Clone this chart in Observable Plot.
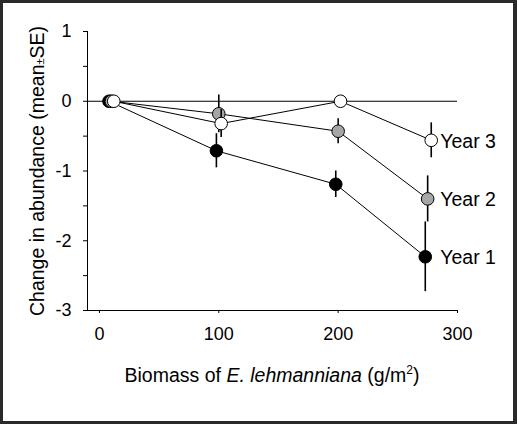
<!DOCTYPE html>
<html>
<head>
<meta charset="utf-8">
<script src="https://cdn.jsdelivr.net/npm/d3@7"></script>
<script src="https://cdn.jsdelivr.net/npm/@observablehq/plot@0.6"></script>
<style>
  html, body { margin: 0; padding: 0; background: #fff; }
  #wrap { position: relative; width: 517px; height: 424px; overflow: hidden; }
  #wrap svg { position: absolute; left: 0; top: 0; }
  #frame { position: absolute; left: 0; top: 0; width: 517px; height: 424px; box-sizing: border-box;
           border-style: solid; border-color: #2a2a2a; border-width: 3px 4px 3px 3px; pointer-events: none; }
</style>
</head>
<body>
<div id="wrap"><div id="frame"></div></div>
<script>
const years = ["Year 1", "Year 2", "Year 3"];
const fills = ["#000000", "#a6a6a6", "#ffffff"];

const biomassY1 = [8, 98, 198, 273];
const meanY1 = [0, -0.71, -1.19, -2.23];
const seY1 = [0, 0.245, 0.19, 0.50];

const biomassY2 = [10, 100, 200, 275];
const meanY2 = [0, -0.18, -0.43, -1.40];
const seY2 = [0, 0.27, 0.18, 0.33];

const biomassY3 = [12, 102, 202, 278];
const meanY3 = [0, -0.32, 0, -0.56];
const seY3 = [0, 0.20, 0, 0.25];

const yTicks = [-3, -2.5, -2, -1.5, -1, -0.5, 0, 0.5, 1];
const xTicks = [0, 100, 200, 300];

const series = [
  {year: years[0], fill: fills[0], xs: biomassY1, ys: meanY1, se: seY1},
  {year: years[1], fill: fills[1], xs: biomassY2, ys: meanY2, se: seY2},
  {year: years[2], fill: fills[2], xs: biomassY3, ys: meanY3, se: seY3}
];

const font = "'Liberation Sans', Arial, sans-serif";
const marks = [];
const labelX = d3.max(series, s => s.xs[s.xs.length - 1]);

// zero reference line
marks.push(Plot.ruleY([0], {x1: -10, x2: 300, stroke: "#000", strokeWidth: 1}));

for (const s of series) {
  const rows = s.xs.map((x, i) => ({x, y: s.ys[i], lo: s.ys[i] - s.se[i], hi: s.ys[i] + s.se[i]}));
  marks.push(Plot.line(rows, {x: "x", y: "y", stroke: "#000", strokeWidth: 1}));
  marks.push(Plot.ruleX(rows.filter(d => d.hi > d.lo), {x: "x", y1: "lo", y2: "hi", stroke: "#000", strokeWidth: 1.6}));
  marks.push(Plot.dot(rows, {x: "x", y: "y", r: 6.3, fill: s.fill, stroke: "#000", strokeWidth: 1}));
  const last = rows[rows.length - 1];
  marks.push(Plot.text([last], {x: () => labelX, y: "y", text: () => s.year, textAnchor: "start", dx: 9, dy: 1, fontSize: 19.5, fill: "#000"}));
}

// axis lines
marks.push(Plot.ruleX([-10], {y1: -3, y2: 1, stroke: "#000", strokeWidth: 1}));
marks.push(Plot.ruleY([-3], {x1: -12.5, x2: 300, stroke: "#000", strokeWidth: 1}));

marks.push(Plot.axisY(yTicks, {
  tickSize: 4, tickPadding: 12, fontSize: 18,
  tickFormat: d => Number.isInteger(d) ? String(d) : "", label: null
}));
marks.push(Plot.axisX(xTicks, {
  tickSize: 3, tickPadding: 14, fontSize: 18, tickFormat: d => String(d), label: null
}));

const chart = Plot.plot({
  width: 517,
  height: 424,
  marginLeft: 87,
  marginRight: 60,
  marginTop: 31,
  marginBottom: 114,
  style: {fontFamily: font, background: "transparent", color: "#000", overflow: "visible"},
  x: {domain: [-10, 300]},
  y: {domain: [-3, 1]},
  marks
});

const svg = d3.select(chart);
// x axis title with italic species name
const xt = svg.append("text")
  .attr("x", 272).attr("y", 382)
  .attr("text-anchor", "middle")
  .attr("font-size", 19.5).attr("font-family", font).attr("fill", "#000");
xt.append("tspan").text("Biomass of ");
xt.append("tspan").attr("font-style", "italic").text("E. lehmanniana");
xt.append("tspan").text(" (g/m");
xt.append("tspan").attr("font-size", 12).attr("dy", -8).text("2");
xt.append("tspan").attr("dy", 8).text(")");

// y axis title
const yt = svg.append("text")
  .attr("transform", "translate(44,171) rotate(-90)")
  .attr("text-anchor", "middle")
  .attr("font-size", 19.5).attr("font-family", font).attr("fill", "#000");
yt.append("tspan").text("Change in abundance (mean");
yt.append("tspan").attr("font-size", 11).text("±");
yt.append("tspan").text("SE)");

document.getElementById("wrap").insertBefore(chart, document.getElementById("frame"));
</script>
</body>
</html>
